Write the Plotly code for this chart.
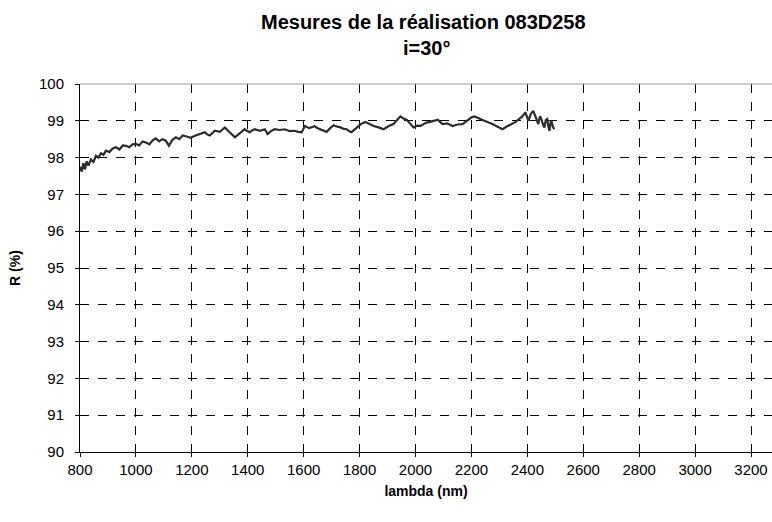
import plotly.graph_objects as go

# Wavelength (nm) and reflectance (%)
lambda_nm = [800, 806, 812, 818, 824, 830, 839, 848, 857, 866, 875, 884, 893, 905, 917, 929, 941, 953, 964,
             976, 988, 1000, 1012, 1024, 1036, 1048, 1060, 1071, 1083, 1095, 1107, 1118, 1130, 1143, 1155,
             1167, 1179, 1196, 1214, 1230, 1246, 1255, 1264, 1273, 1282, 1300, 1318, 1327, 1336, 1345, 1354,
             1371, 1389, 1398, 1407, 1416, 1425, 1443, 1461, 1471, 1483, 1496, 1514, 1532, 1550, 1568, 1580,
             1593, 1604, 1620, 1639, 1650, 1661, 1672, 1682, 1695, 1707, 1720, 1732, 1743, 1754, 1762, 1771,
             1788, 1804, 1821, 1835, 1850, 1868, 1886, 1903, 1921, 1934, 1946, 1957, 1968, 1980, 1993, 2006,
             2018, 2029, 2039, 2052, 2064, 2080, 2096, 2114, 2132, 2150, 2168, 2180, 2193, 2202, 2211, 2225,
             2239, 2257, 2275, 2293, 2311, 2328, 2346, 2358, 2371, 2382, 2393, 2398, 2404, 2412, 2421, 2430,
             2439, 2445, 2450, 2456, 2461, 2466, 2471, 2475, 2479, 2483, 2486, 2491, 2496]
reflectance = [97.75, 97.62, 97.85, 97.68, 97.9, 97.78, 97.95, 97.88, 98.05, 98.0, 98.12, 98.08, 98.19, 98.15,
               98.25, 98.28, 98.22, 98.33, 98.32, 98.28, 98.36, 98.37, 98.33, 98.44, 98.41, 98.36, 98.47, 98.52,
               98.44, 98.5, 98.46, 98.32, 98.48, 98.55, 98.5, 98.6, 98.58, 98.54, 98.6, 98.64, 98.69, 98.63,
               98.6, 98.66, 98.73, 98.7, 98.82, 98.75, 98.69, 98.62, 98.55, 98.66, 98.77, 98.72, 98.69, 98.74,
               98.77, 98.73, 98.77, 98.64, 98.72, 98.77, 98.75, 98.77, 98.72, 98.73, 98.7, 98.69, 98.86, 98.8,
               98.85, 98.8, 98.77, 98.74, 98.7, 98.8, 98.88, 98.84, 98.82, 98.78, 98.77, 98.72, 98.69, 98.8,
               98.91, 98.97, 98.92, 98.86, 98.82, 98.77, 98.85, 98.91, 99.02, 99.12, 99.06, 99.03, 98.93, 98.82,
               98.87, 98.86, 98.91, 98.95, 98.97, 99.0, 99.03, 98.91, 98.93, 98.86, 98.9, 98.91, 98.98, 99.06,
               99.1, 99.12, 99.08, 99.03, 98.97, 98.91, 98.84, 98.77, 98.85, 98.91, 98.97, 99.05, 99.12, 99.23,
               99.1, 99.0, 99.18, 99.27, 99.1, 98.91, 99.12, 99.05, 98.9, 98.82, 99.02, 99.05, 98.85, 98.73,
               98.95, 99.0, 98.85, 98.77]

x_ticks = [800, 1000, 1200, 1400, 1600, 1800, 2000, 2200, 2400, 2600, 2800, 3000, 3200]
y_ticks = [90, 91, 92, 93, 94, 95, 96, 97, 98, 99, 100]

title_line1 = "Mesures de la réalisation 083D258"
title_line2 = "i=30°"

font_family = "Liberation Sans, Arial, sans-serif"
W, H = 772, 522
ML, MR, MT, MB = 80, 0, 84, 70
PW, PH = W - ML - MR, H - MT - MB

fig = go.Figure()
fig.add_trace(go.Scatter(
    x=lambda_nm, y=reflectance, mode="lines",
    line=dict(color="#2b2b2b", width=2.2),
    showlegend=False, hoverinfo="x+y",
))

fig.update_layout(
    width=W, height=H,
    margin=dict(l=ML, r=MR, t=MT, b=MB, autoexpand=False),
    paper_bgcolor="white", plot_bgcolor="white",
    font=dict(family=font_family, color="black", size=15),
    xaxis=dict(
        range=[800, 3275], tickvals=x_ticks, ticktext=[str(v) for v in x_ticks],
        showgrid=True, gridcolor="black", griddash="dash", gridwidth=1,
        showline=True, linecolor="black", linewidth=1,
        ticks="outside", ticklen=4, tickcolor="black",
        zeroline=False, automargin=False,
        title=dict(text="<b>lambda (nm)</b>", font=dict(size=14), standoff=9),
        tickfont=dict(size=15),
    ),
    yaxis=dict(
        range=[90, 100], tickvals=y_ticks, ticktext=[str(v) for v in y_ticks],
        showgrid=True, gridcolor="black", griddash="dash", gridwidth=1,
        showline=True, linecolor="black", linewidth=1,
        ticks="outside", ticklen=4, tickcolor="black",
        zeroline=False, automargin=False, ticklabelstandoff=8,
        title=dict(text="<b>R (%)</b>", font=dict(size=14)),
        tickfont=dict(size=15),
    ),
    shapes=[dict(type="line", xref="paper", yref="paper", x0=0, x1=1, y0=1, y1=1,
                 line=dict(color="#999999", width=1))],
    annotations=[
        dict(text="<b>" + title_line1 + "</b>", xref="paper", yref="paper",
             x=(423 - ML) / PW, y=1 + (MT - 22) / PH, xanchor="center", yanchor="middle",
             showarrow=False, font=dict(size=20, family=font_family, color="black")),
        dict(text="<b>" + title_line2 + "</b>", xref="paper", yref="paper",
             x=(427 - ML) / PW, y=1 + (MT - 48) / PH, xanchor="center", yanchor="middle",
             showarrow=False, font=dict(size=20, family=font_family, color="black")),
    ],
)

fig.write_html(
    "out.html",
    config={"displayModeBar": False},
    post_script="document.body.style.margin='0';document.body.style.overflow='hidden';",
)
